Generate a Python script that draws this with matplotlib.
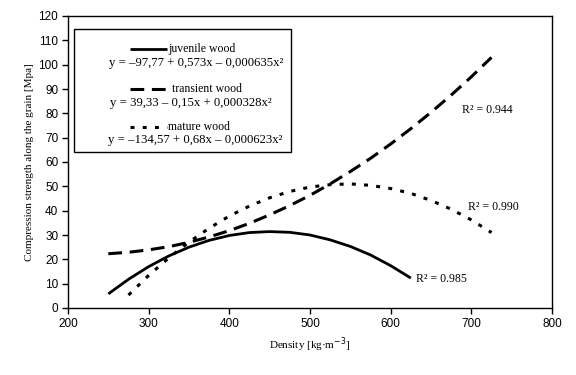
import matplotlib
matplotlib.use("Agg")
import matplotlib.pyplot as plt
from matplotlib.patches import Rectangle
from matplotlib.lines import Line2D

# Data
juv_x = [250, 275, 300, 325, 350, 375, 400, 425, 450, 475, 500, 525, 550, 575, 600, 625]
juv_y = [5.8, 11.8, 17.0, 21.4, 25.0, 27.8, 29.8, 31.0, 31.4, 31.1, 30.0, 28.0, 25.3, 21.8, 17.4, 12.3]

tra_x = [250, 275, 300, 325, 350, 375, 400, 425, 450, 475, 500, 525, 550, 575, 600, 625, 650, 675, 700, 725]
tra_y = [22.3, 22.9, 23.9, 25.2, 27.0, 29.2, 31.8, 34.8, 38.3, 42.1, 46.3, 51.0, 56.1, 61.5, 67.4, 73.7, 80.4, 87.5, 95.0, 103.0]

mat_x = [275, 300, 325, 350, 375, 400, 425, 450, 475, 500, 525, 550, 575, 600, 625, 650, 675, 700, 725]
mat_y = [5.3, 13.4, 20.6, 27.1, 32.8, 37.8, 41.9, 45.3, 47.9, 49.7, 50.7, 51.0, 50.4, 49.1, 47.1, 44.2, 40.6, 36.2, 31.0]

series_names = ["juvenile wood", "transient wood", "mature wood"]
equations = ["y = \u201397,77 + 0,573x \u2013 0,000635x\u00b2",
             "y = 39,33 \u2013 0,15x + 0,000328x\u00b2",
             "y = \u2013134,57 + 0,68x \u2013 0,000623x\u00b2"]
r2_labels = ["R\u00b2 = 0.985", "R\u00b2 = 0.944", "R\u00b2 = 0.990"]
r2_pos = [(631, 11.9), (688, 81.5), (696, 41.6)]

x_ticks = [200, 300, 400, 500, 600, 700, 800]
y_ticks = list(range(0, 121, 10))

serif = "Liberation Serif"
sans = "Liberation Sans"

fig = plt.figure(figsize=(5.76, 3.75), dpi=100)
ax = fig.add_axes([68/576, 1 - 308/375, 484/576, 292/375])

styles = [dict(ls="-", lw=2.0),
          dict(ls=(0, (4.5, 2.5)), lw=2.2),
          dict(ls=(0, (1.3, 2.7)), lw=2.2)]

for (xs, ys), st in zip([(juv_x, juv_y), (tra_x, tra_y), (mat_x, mat_y)], styles):
    ax.plot(xs, ys, color="black", solid_capstyle="butt", dash_capstyle="butt", **st)

for lab, (px, py) in zip(r2_labels, r2_pos):
    ax.text(px, py, lab, fontsize=8.5, family=serif, va="center", ha="left")

ax.set_xlim(200, 800)
ax.set_ylim(0, 120)
ax.set_xticks(x_ticks)
ax.set_yticks(y_ticks)
for lbl in ax.get_xticklabels() + ax.get_yticklabels():
    lbl.set_family(sans)
    lbl.set_fontsize(8.5)
ax.tick_params(direction="out", length=4, width=1, color="black", pad=3)
for s in ax.spines.values():
    s.set_linewidth(1.0)
    s.set_color("black")

ax.set_xlabel("Density [kg\u00b7m$^{\u22123}$]", family=serif, fontsize=8, labelpad=4)
ax.set_ylabel("Compression strength along the grain [Mpa]", family=serif, fontsize=8, labelpad=3)

# legend box
def fx(px):
    return (px - 68) / 484
def fy(py):
    return (308 - py) / 292

box = Rectangle((fx(74), fy(152)), fx(291) - fx(74), fy(29) - fy(152),
                transform=ax.transAxes, facecolor="white", edgecolor="black", lw=1.0, zorder=5)
ax.add_patch(box)

sample_y = [49, 89, 127]
text_x = [168, 172, 168]
eq_y = [63, 103, 139.5]
eq_cx = [196, 191, 195]
for i in range(3):
    ln = Line2D([fx(130), fx(167)], [fy(sample_y[i])] * 2, transform=ax.transAxes,
                color="black", zorder=6, solid_capstyle="butt", dash_capstyle="butt", **styles[i])
    ax.add_line(ln)
    ax.text(fx(text_x[i]), fy(sample_y[i]), series_names[i], transform=ax.transAxes,
            family=serif, fontsize=8.5, va="center", ha="left", zorder=6)
    ax.text(fx(eq_cx[i]), fy(eq_y[i]), equations[i], transform=ax.transAxes,
            family=serif, fontsize=9.2, va="center", ha="center", zorder=6)

fig.savefig("out.png", dpi=100, facecolor="white")
